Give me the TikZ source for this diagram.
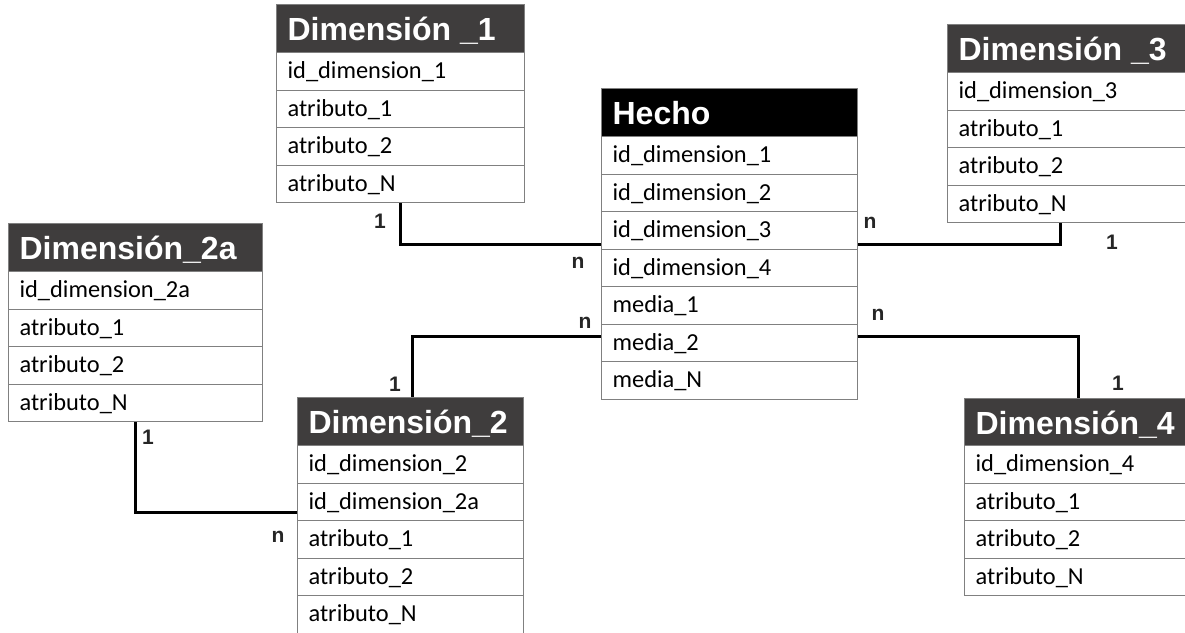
\documentclass[tikz,border=0pt]{standalone}
\usepackage{fontspec}
\setmainfont{Carlito}
\newfontfamily\headfont{Liberation Sans}
\newfontfamily\cardfont{Liberation Sans}
\definecolor{headgray}{HTML}{3F3D3D}
\definecolor{linegray}{HTML}{808080}
% left aligned cell text of a fixed width
\newcommand{\celltext}[2]{\makebox[#1][l]{#2}}

\begin{document}
\begin{tikzpicture}
[x=1pt,y=-1pt,
  tablehead/.style={fill=headgray,draw=linegray,line width=1.2pt,text=white,
    anchor=north west,minimum height=48pt,inner xsep=11pt,inner ysep=0pt,
    text height=24pt,text depth=0pt,
    font=\headfont\bfseries\fontsize{32}{38}\selectfont},%
  facthead/.style={tablehead,fill=black},%
  tablerow/.style={fill=white,draw=linegray,line width=1.2pt,anchor=north west,
    minimum height=37.5pt,inner xsep=11pt,inner ysep=0pt,
    text height=15pt,text depth=0pt,font=\fontsize{24.4}{29}\selectfont},%
  link/.style={-,line width=2.8pt,black},%
  card/.style={inner sep=0pt,text=black!85,
    font=\cardfont\bfseries\fontsize{21}{25}\selectfont}]
\useasboundingbox[fill=white] (0,0) rectangle (1185,632);
%% fact table
\node[facthead] (h) at (601,88) {\celltext{234pt}{Hecho}};
\foreach \i/\txt in {1/id\_dimension\_1, 2/id\_dimension\_2, 3/id\_dimension\_3,
  4/id\_dimension\_4, 5/media\_1, 6/media\_2, 7/media\_N}
{
  \node[tablerow] (h-\i) at (601,{136+37.5*(\i-1)}) {\celltext{234pt}{\txt}};
}
%% dimension tables
\node[tablehead] (d1) at (276,4) {\celltext{226pt}{Dimensión \_1}};
\foreach \i/\txt in {1/id\_dimension\_1, 2/atributo\_1, 3/atributo\_2, 4/atributo\_N}
{
  \node[tablerow] (d1-\i) at (276,{52+37.5*(\i-1)}) {\celltext{226pt}{\txt}};
}
\node[tablehead] (d3) at (947,24) {\celltext{216pt}{Dimensión \_3}};
\foreach \i/\txt in {1/id\_dimension\_3, 2/atributo\_1, 3/atributo\_2, 4/atributo\_N}
{
  \node[tablerow] (d3-\i) at (947,{72+37.5*(\i-1)}) {\celltext{216pt}{\txt}};
}
\node[tablehead] (d2a) at (8,223) {\celltext{232pt}{Dimensión\_2a}};
\foreach \i/\txt in {1/id\_dimension\_2a, 2/atributo\_1, 3/atributo\_2, 4/atributo\_N}
{
  \node[tablerow] (d2a-\i) at (8,{271+37.5*(\i-1)}) {\celltext{232pt}{\txt}};
}
\node[tablehead] (d2) at (297,397) {\celltext{204pt}{Dimensión\_2}};
\foreach \i/\txt in {1/id\_dimension\_2, 2/id\_dimension\_2a, 3/atributo\_1,
  4/atributo\_2, 5/atributo\_N}
{
  \node[tablerow] (d2-\i) at (297,{445+37.5*(\i-1)}) {\celltext{204pt}{\txt}};
}
\node[tablehead] (d4) at (964,397.5) {\celltext{199pt}{Dimensión\_4}};
\foreach \i/\txt in {1/id\_dimension\_4, 2/atributo\_1, 3/atributo\_2, 4/atributo\_N}
{
  \node[tablerow] (d4-\i) at (964,{445+37.5*(\i-1)}) {\celltext{199pt}{\txt}};
}
%% relations
\draw[link] (d1-4.south) |- ([yshift=5pt]h-3.south west);
\draw[link] ([yshift=5pt]h-3.south east) -| ([xshift=-6pt]d3-4.south);
\draw[link] ([yshift=6pt]h-6.west) -| ([xshift=2pt]d2.north);
\draw[link] ([yshift=6pt]h-6.east) -| ([xshift=3.5pt]d4.north);
\draw[link] (d2a-4.south) |- ([yshift=-11pt]d2-2.west);
%% cardinalities
\node[card] (c1) at (380,221) {1};
\node[card] (n1) at (578,263) {n};
\node[card] (n3) at (870,223) {n};
\node[card] (c3) at (1112,242) {1};
\node[card] (n2) at (585,323) {n};
\node[card] (c2) at (395,384) {1};
\node[card] (n4) at (878,315) {n};
\node[card] (c4) at (1118,383) {1};
\node[card] (c2a) at (148,437) {1};
\node[card] (n2a) at (278,537) {n};
\end{tikzpicture}
\end{document}
